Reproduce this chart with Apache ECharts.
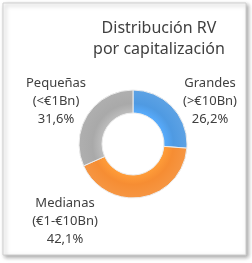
<!DOCTYPE html>
<html><head><meta charset="utf-8">
<script src="https://cdn.jsdelivr.net/npm/echarts@6/dist/echarts.min.js"></script>
<style>html,body{margin:0;padding:0;background:#fff}#c{width:252px;height:263px}</style>
</head><body><div id="c"></div>
<script>
const categories = ['Grandes', 'Medianas', 'Pequeñas'];
const subLabels = ['(>€10Bn)', '(€1-€10Bn)', '(<€1Bn)'];
const values = [26.2, 42.1, 31.6];
const colors = ['#4f9ae2', '#f68d33', '#a9a9a9'];
const titleLines = ['Distribución RV', 'por capitalización'];

const labelPos = {
  'Grandes': [210, 101],
  'Medianas': [65, 221],
  'Pequeñas': [56, 101]
};
const CX = 133, CY = 144, R0 = 31, R1 = 54;

const chart = echarts.init(document.getElementById('c'));
chart.setOption({
  animation: false,
  title: {
    text: titleLines.join('\n'),
    left: 154, top: 13, textAlign: 'center',
    textStyle: { fontFamily: 'Noto Sans', fontSize: 16, fontWeight: 'normal', color: '#404040', lineHeight: 21 }
  },
  graphic: [{
    type: 'rect', z: -10,
    shape: { x: 3, y: 3, width: 243, height: 252 },
    style: { fill: '#fff', stroke: '#cfcfcf', lineWidth: 1, shadowColor: 'rgba(0,0,0,0.35)', shadowBlur: 4, shadowOffsetX: 2, shadowOffsetY: 2 }
  }],
  series: [{
    type: 'pie',
    center: [CX, CY],
    radius: [R0, R1],
    startAngle: 90,
    clockwise: true,
    data: categories.map((c, i) => ({
      name: c, value: values[i],
      itemStyle: {
        color: new echarts.graphic.RadialGradient(CX, CY, R1, [
          { offset: R0 / R1, color: echarts.color.lift(colors[i], -0.12) },
          { offset: 0.75, color: colors[i] },
          { offset: 1, color: echarts.color.lift(colors[i], 0.08) }
        ], true)
      }
    })),
    itemStyle: { borderColor: '#ececec', borderWidth: 1 },
    label: {
      show: true,
      position: 'outside',
      overflow: 'none',
      width: 120,
      formatter: p => p.name + '\n' + subLabels[p.dataIndex] + '\n' + p.value.toFixed(1).replace('.', ',') + '%',
      fontFamily: 'Noto Sans', fontSize: 13, color: '#404040', lineHeight: 18, align: 'center'
    },
    labelLine: { show: false },
    labelLayout: p => {
      const pos = labelPos[categories[p.dataIndex]];
      return { x: pos[0], y: pos[1], align: 'center', verticalAlign: 'middle' };
    },
    emphasis: { disabled: true }
  }]
});
</script></body></html>
